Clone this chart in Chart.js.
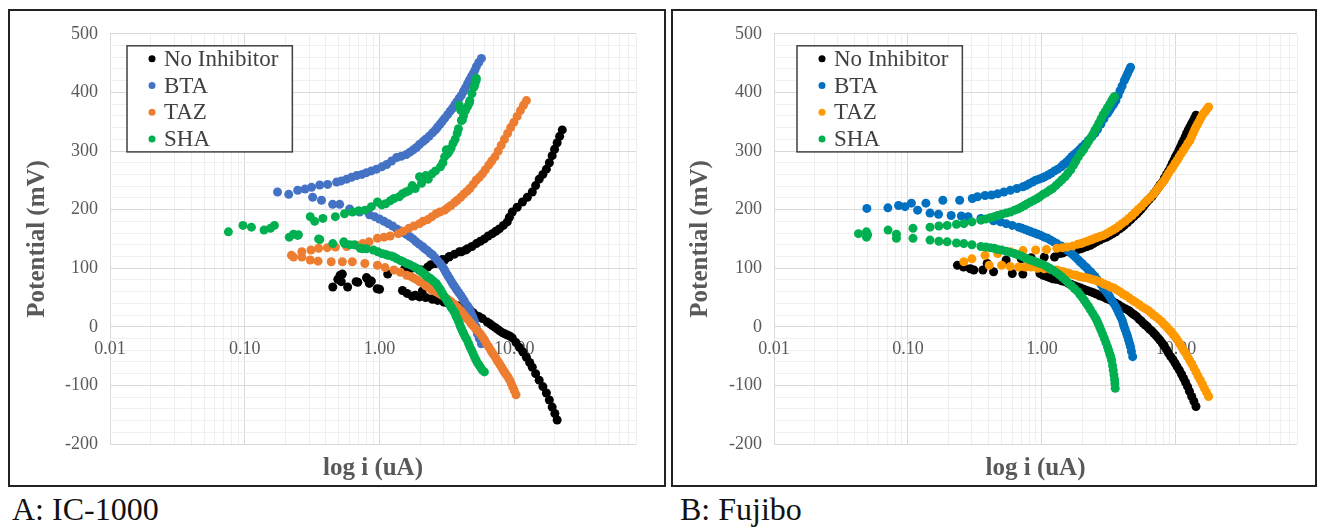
<!DOCTYPE html>
<html>
<head>
<meta charset="utf-8">
<script src="https://cdn.jsdelivr.net/npm/chart.js@4.4.0/dist/chart.umd.min.js"></script>
<style>
  body { margin: 0; background: #fff; width: 1321px; height: 527px; position: relative; overflow: hidden; }
  .panel { position: absolute; top: 9px; height: 474px; border: 2px solid #222; }
  #panelA { left: 8px; width: 654px; }
  #panelB { left: 671px; width: 642px; }
  .caption { position: absolute; top: 493px; font: 32px "Liberation Serif", "Times New Roman", serif; line-height: 32px; color: #111; }
</style>
</head>
<body>
<div class="panel" id="panelA"><canvas id="chartA" width="654" height="474"></canvas></div>
<div class="panel" id="panelB"><canvas id="chartB" width="642" height="474"></canvas></div>
<div class="caption" style="left:12px">A: IC-1000</div>
<div class="caption" style="left:680px">B: Fujibo</div>
<script>
// axis ticks
const xMajorTicks = [0.01, 0.1, 1, 10];
const xTickLabels = ['0.01', '0.10', '1.00', '10.00'];
const yMajorTicks = [-200, -100, 0, 100, 200, 300, 400, 500];
const seriesNames = ['No Inhibitor', 'BTA', 'TAZ', 'SHA'];

// A: IC-1000  -- [current (uA), potential (mV)]
const noInhibitorA = [
  [0.45,68],[0.49,81],[0.51,88],[0.52,77],[0.53,90],[0.58,68],[0.67,77],[0.69,76],[0.80,84],[0.81,82],
  [0.84,74],[0.87,78],[0.96,65],[1.0,64],[1.15,90],
  [1.48,62],[1.6,57],[1.75,52],[1.84,54],[1.98,51],[2.08,61],[2.2,50],[2.45,48],[2.47,47],[2.7,45],[3.0,42],
  [3.2,41],[3.48,39],[3.8,36],[4.1,34],[4.4,32],[4.65,30],[4.95,24],[5.23,19],[5.5,17],[5.8,14],[6.3,8],[6.6,5],
  [6.87,2],[7.2,-1],[7.5,-4],[7.8,-7],[8.15,-10],[8.5,-12],[8.9,-14],[9.3,-16],[9.66,-19],[10.3,-27],
  [10.9,-35],[11.6,-43],[12.3,-52],[13.0,-61],[13.6,-69],[14.4,-80],[15.3,-91],[16.3,-102],[17.3,-113],
  [18.2,-125],[19.1,-137],[20.0,-148],[20.8,-159],
  [1.53,98],[1.7,99],[1.98,97],[2.05,97],[2.28,102],[2.4,106],[2.6,108],[2.75,112],[2.93,115],[3.04,114],
  [3.27,119],[3.30,120],[3.6,124],[3.92,128],[4.05,128],[4.35,131],[4.49,133],[4.85,137],[5.23,142],[5.6,146],
  [6.0,150],[6.4,155],[6.87,159],[7.3,163],[7.74,167],[8.3,173],[8.87,179],[9.2,187],[9.66,196],[10.5,204],
  [11.5,213],[12.5,221],[13.6,230],[14.4,241],[15.3,252],[16.3,260],[17.3,269],[18.2,280],[19.1,292],[19.9,303],
  [20.8,314],[21.7,325],[22.7,336]
];
const btaA = [
  [0.175,230],[0.212,226],[0.247,233],[0.28,235],[0.313,238],[0.36,242],[0.412,243],[0.48,247],[0.52,249],
  [0.57,252],[0.62,255],[0.676,258],[0.74,260],[0.80,263],[0.87,266],[0.95,269],[1.04,273],[1.13,277],
  [1.23,283],[1.34,289],[1.45,291],[1.58,294],[1.68,298],[1.78,302],[1.88,306],[1.98,311],[2.1,316],[2.2,320],
  [2.33,325],[2.47,331],[2.6,336],[2.7,341],[2.82,346],[2.93,351],[3.05,356],[3.2,362],[3.34,368],[3.48,373],
  [3.62,379],[3.75,384],[3.9,390],[4.05,395],[4.2,402],[4.35,408],[4.5,415],[4.64,421],[4.8,427],[4.95,432],
  [5.1,438],[5.23,444],[5.45,451],[5.70,458],
  [0.319,221],[0.371,216],[0.449,209],[0.506,209],[0.60,201],[0.711,196],[0.843,191],[0.92,188],[1.0,184],
  [1.08,180],[1.16,176],[1.25,172],[1.34,167],[1.42,164],[1.5,161],[1.58,158],[1.67,154],[1.77,150],[1.87,145],
  [1.97,141],[2.08,137],[2.17,133],[2.27,130],[2.37,126],[2.47,123],[2.58,118],[2.7,113],[2.82,108],[2.93,103],
  [3.02,98],[3.1,93],[3.2,88],[3.30,83],[3.4,78],[3.5,73],[3.6,69],[3.72,64],[3.86,59],[4.0,54],[4.13,49],
  [4.26,44],[4.45,37],[4.55,34],[4.64,30],[4.75,25],[4.85,20],[4.95,15],[5.06,10],[5.2,0],[5.26,-6],[5.32,-12],
  [5.5,-20],[5.70,-29]
];
const tazA = [
  [0.222,122],[0.265,128],[0.31,131],[0.353,134],[0.41,135],[0.471,136],[0.57,137],[0.674,139],[0.75,142],
  [0.836,145],[0.965,151],[1.08,153],[1.20,155],[1.38,159],[1.5,163],[1.65,168],[1.8,172],[1.98,176],[2.1,180],
  [2.28,183],[2.45,188],[2.63,193],[2.8,196],[3.04,199],[3.2,203],[3.39,207],[3.6,212],[3.77,216],[4.0,221],
  [4.20,226],[4.45,231],[4.68,236],[4.95,243],[5.21,250],[5.5,255],[5.80,261],[6.1,268],[6.46,276],[6.8,283],
  [7.19,290],[7.6,300],[8.0,310],[8.45,320],[8.92,330],[9.4,340],[9.93,349],[10.5,359],[11.1,369],[11.7,378],
  [12.3,386],
  [0.23,119],[0.265,119],[0.306,114],[0.35,112],[0.438,111],[0.53,111],[0.628,111],[0.778,108],[0.965,105],
  [1.1,101],[1.28,97],[1.43,93],[1.59,88],[1.7,86],[1.8,83],[1.9,80],[1.98,77],[2.1,74],[2.2,70],[2.33,66],
  [2.45,62],[2.6,60],[2.75,57],[2.9,54],[3.04,51],[3.2,47],[3.4,43],[3.6,38],[3.77,34],[3.9,30],[4.05,26],
  [4.2,21],[4.35,17],[4.5,13],[4.7,8],[4.85,4],[5.02,0],[5.2,-4],[5.4,-8],[5.6,-12],[5.80,-17],[6.0,-22],
  [6.2,-28],[6.45,-34],[6.69,-40],[6.85,-44],[7.05,-48],[7.25,-52],[7.45,-57],[7.65,-61],[7.85,-65],[8.05,-69],
  [8.29,-74],[8.5,-78],[8.75,-82],[9.0,-86],[9.25,-91],[9.5,-97],[9.75,-103],[10.0,-109],[10.3,-116]
];
const shaA = [
  [0.0756,162],[0.097,173],[0.112,170],[0.139,165],[0.155,168],[0.166,173],[0.214,153],[0.23,158],[0.247,156],
  [0.25,157],[0.306,188],[0.33,180],[0.38,185],[0.47,188],[0.55,193],[0.63,196],[0.7,198],[0.78,199],[0.87,205],
  [0.965,213],[1.04,208],[1.11,210],[1.2,215],[1.28,219],[1.4,222],[1.48,227],[1.57,230],[1.65,232],[1.75,241],
  [1.84,236],[1.98,256],[2.05,245],[2.2,258],[2.3,252],[2.45,261],[2.6,266],[2.83,273],[2.95,280],[3.04,290],
  [3.13,302],[3.2,295],[3.3,300],[3.4,305],[3.51,313],[3.64,320],[3.77,330],[3.85,338],[3.9,378],[4.0,370],
  [4.05,352],[4.12,353],[4.2,360],[4.35,369],[4.5,376],[4.64,382],[4.68,386],[4.85,398],[5.02,409],[5.1,414],
  [5.21,420],[5.23,424],
  [0.353,150],[0.36,149],[0.45,142],[0.543,145],[0.55,142],[0.6,140],[0.65,140],[0.72,134],[0.75,133],[0.80,133],
  [0.90,131],[0.97,128],[1.04,125],[1.1,124],[1.15,122],[1.22,121],[1.28,119],[1.35,116],[1.43,113],[1.5,111],
  [1.59,108],[1.68,106],[1.78,103],[1.88,100],[1.98,97],[2.05,94],[2.13,91],[2.2,88],[2.28,85],[2.37,83],
  [2.45,80],[2.54,77],[2.63,74],[2.7,70],[2.78,66],[2.85,62],[2.93,57],[3.02,52],[3.1,48],[3.18,44],[3.27,40],
  [3.36,35],[3.45,31],[3.55,27],[3.64,23],[3.7,18],[3.78,14],[3.85,10],[3.91,6],[3.98,1],[4.05,-3],[4.12,-7],
  [4.20,-11],[4.32,-17],[4.45,-22],[4.57,-28],[4.68,-34],[4.82,-40],[4.95,-46],[5.08,-52],[5.21,-57],[5.35,-62],
  [5.5,-66],[5.65,-70],[5.80,-74],[6.0,-77]
];

// B: Fujibo  -- [current (uA), potential (mV)]
const noInhibitorB = [
  [0.234,105],[0.26,102],[0.292,99],[0.31,97],[0.362,97],[0.39,108],[0.435,94],[0.54,114],[0.60,91],[0.70,116],
  [0.72,90],[0.83,118],[1.04,119],[1.24,119],
  [0.965,91],[1.02,88],[1.08,86],[1.14,84],[1.20,82],[1.27,81],[1.35,80],[1.42,78],[1.49,77],[1.57,74],[1.66,72],
  [1.75,70],[1.85,68],[1.95,66],[2.05,64],[2.17,62],[2.30,60],[2.42,58],[2.55,56],[2.7,53],[2.86,51],[3.03,48],
  [3.2,46],[3.38,43],[3.56,40],[3.75,37],[3.95,34],[4.18,31],[4.43,28],[4.6,25],[4.75,22],[4.92,20],[5.11,17],
  [5.3,13],[5.5,10],[5.7,6],[5.91,3],[6.12,0],[6.35,-4],[6.6,-7],[6.84,-11],[7.1,-15],[7.35,-19],[7.6,-23],
  [7.90,-28],[8.2,-33],[8.5,-39],[8.8,-45],[9.14,-51],[9.5,-56],[9.85,-62],[10.2,-68],[10.6,-74],[11.0,-81],
  [11.4,-88],[11.8,-95],[12.2,-102],[12.6,-110],[13.1,-119],[13.6,-127],[14.1,-136],
  [1.35,125],[1.42,126],[1.49,128],[1.57,129],[1.66,130],[1.75,131],[1.85,132],[1.95,133],[2.05,135],[2.17,137],
  [2.30,139],[2.42,142],[2.55,145],[2.7,148],[2.86,151],[3.03,153],[3.2,156],[3.38,159],[3.56,162],[3.8,167],
  [3.95,170],[4.11,173],[4.35,178],[4.6,183],[4.85,188],[5.11,193],[5.3,197],[5.5,201],[5.7,205],[5.91,210],
  [6.12,214],[6.35,218],[6.6,222],[6.84,227],[7.1,232],[7.35,237],[7.6,242],[7.90,247],[8.2,254],[8.5,260],
  [8.8,266],[9.14,273],[9.4,279],[9.65,284],[9.9,290],[10.2,295],[10.5,301],[10.8,307],[11.1,313],[11.4,318],
  [11.7,324],[12.0,330],[12.35,336],[12.7,341],[13.05,346],[13.4,351],[13.75,356],[14.1,361]
];
const btaB = [
  [0.0493,202],[0.0708,203],[0.085,207],[0.095,205],[0.106,211],[0.136,211],[0.182,216],[0.243,216],[0.302,219],
  [0.33,222],[0.376,224],[0.42,225],[0.467,227],[0.52,230],[0.581,233],[0.65,236],[0.721,239],[0.76,241],
  [0.8,244],[0.85,247],[0.897,250],[0.95,252],[1.0,254],[1.05,256],[1.11,259],[1.17,262],[1.24,266],[1.31,269],
  [1.39,273],[1.45,277],[1.52,281],[1.59,285],[1.66,290],[1.74,294],[1.82,298],[1.9,302],[1.99,307],[2.1,312],
  [2.22,318],[2.35,324],[2.48,330],[2.6,337],[2.75,346],[2.9,355],[3.08,364],[3.2,370],[3.3,375],[3.43,380],
  [3.56,386],[3.7,395],[3.82,403],[3.96,411],[4.11,420],[4.23,426],[4.35,432],[4.47,438],[4.58,443],
  [0.118,199],[0.146,194],[0.169,192],[0.21,190],[0.25,189],[0.281,188],[0.35,185],[0.434,181],[0.49,179],
  [0.54,176],[0.6,173],[0.67,170],[0.71,168],[0.75,166],[0.79,164],[0.83,162],[0.88,160],[0.93,158],[0.98,156],
  [1.04,153],[1.1,151],[1.16,148],[1.22,145],[1.29,142],[1.39,138],[1.49,134],[1.55,131],[1.6,128],[1.66,125],
  [1.72,122],[1.78,119],[1.85,115],[1.92,111],[1.99,108],[2.07,104],[2.15,101],[2.22,97],[2.30,94],[2.39,90],
  [2.48,86],[2.57,81],[2.66,77],[2.76,72],[2.86,67],[2.97,62],[3.08,57],[3.19,52],[3.3,46],[3.43,40],[3.56,34],
  [3.65,29],[3.75,23],[3.86,17],[3.97,11],[4.04,5],[4.1,0],[4.18,-5],[4.27,-11],[4.35,-16],[4.42,-22],[4.5,-28],
  [4.58,-34],[4.65,-42],[4.75,-51]
];
const tazB = [
  [0.261,111],[0.30,116],[0.376,122],[0.467,125],[0.581,128],[0.721,130],[0.897,131],[1.08,132],[1.29,134],
  [1.42,135],[1.54,136],[1.7,138],[1.85,141],[1.95,142],[2.05,144],[2.17,146],[2.30,148],[2.42,150],[2.55,152],
  [2.7,154],[2.86,156],[3.03,159],[3.2,162],[3.38,165],[3.56,168],[3.75,172],[3.95,176],[4.18,180],[4.43,185],
  [4.7,190],[4.95,195],[5.2,200],[5.50,205],[5.8,211],[6.1,216],[6.45,221],[6.84,227],[7.15,233],[7.5,239],
  [7.85,245],[8.19,250],[8.5,256],[8.8,262],[9.15,268],[9.48,273],[9.85,279],[10.2,284],[10.55,290],[10.9,295],
  [11.35,301],[11.8,307],[12.25,313],[12.7,318],[13.05,324],[13.4,330],[13.75,336],[14.1,341],[14.5,346],
  [14.9,351],[15.3,356],[15.7,361],[16.15,365],[16.6,368],[17.05,372],[17.5,375],
  [0.404,105],[0.50,105],[0.58,103],[0.67,102],[0.75,102],[0.83,102],[0.93,100],[1.04,99],[1.16,98],[1.29,97],
  [1.37,95],[1.45,94],[1.52,92],[1.60,91],[1.7,89],[1.8,88],[1.89,86],[1.99,85],[2.1,84],[2.22,83],[2.35,81],
  [2.48,80],[2.6,78],[2.75,76],[2.9,73],[3.08,71],[3.25,68],[3.45,66],[3.62,63],[3.82,60],[4.02,56],[4.25,53],
  [4.5,49],[4.75,45],[5.0,42],[5.3,38],[5.6,34],[5.91,31],[6.2,28],[6.5,24],[6.8,20],[7.09,17],[7.45,13],
  [7.8,9],[8.15,4],[8.51,0],[8.8,-4],[9.15,-8],[9.5,-13],[9.84,-17],[10.2,-22],[10.6,-28],[11.0,-34],[11.4,-40],
  [11.8,-45],[12.2,-51],[12.65,-57],[13.1,-63],[13.6,-70],[14.1,-77],[14.6,-84],[15.2,-91],[15.75,-98],
  [16.3,-105],[16.9,-112],[17.5,-119]
];
const shaB = [
  [0.0427,159],[0.049,162],[0.071,165],[0.082,158],[0.109,168],[0.146,170],[0.17,172],[0.196,173],[0.23,175],
  [0.261,176],[0.3,179],[0.35,182],[0.38,184],[0.41,186],[0.44,188],[0.467,190],[0.5,192],[0.54,194],[0.58,196],
  [0.624,199],[0.66,201],[0.7,204],[0.74,207],[0.776,210],[0.82,213],[0.87,216],[0.92,219],[0.965,222],[1.02,226],
  [1.08,229],[1.14,233],[1.20,236],[1.27,241],[1.34,246],[1.41,251],[1.49,256],[1.56,262],[1.64,268],[1.72,276],
  [1.79,283],[1.87,290],[1.96,297],[2.05,303],[2.14,310],[2.22,316],[2.3,322],[2.39,328],[2.48,335],[2.57,341],
  [2.66,348],[2.76,355],[2.86,362],[2.97,368],[3.08,374],[3.2,380],[3.31,386],[3.4,390],[3.48,393],
  [0.049,153],[0.05,157],[0.082,151],[0.109,151],[0.146,148],[0.17,146],[0.196,145],[0.23,143],[0.261,142],
  [0.3,140],[0.35,137],[0.38,136],[0.41,135],[0.44,134],[0.467,132],[0.5,131],[0.54,129],[0.58,127],[0.624,125],
  [0.66,123],[0.7,121],[0.74,118],[0.776,116],[0.82,114],[0.87,112],[0.92,110],[0.965,108],[1.02,106],[1.08,103],
  [1.14,100],[1.20,97],[1.27,93],[1.34,89],[1.41,85],[1.49,80],[1.57,75],[1.66,70],[1.75,65],[1.85,60],[1.92,55],
  [2.0,50],[2.07,45],[2.14,40],[2.22,35],[2.3,29],[2.39,23],[2.48,17],[2.55,12],[2.62,6],[2.69,0],[2.76,-6],
  [2.84,-13],[2.92,-20],[3.0,-27],[3.08,-34],[3.14,-40],[3.2,-46],[3.26,-51],[3.31,-57],[3.36,-66],[3.4,-74],
  [3.44,-82],[3.48,-90],[3.5,-97],[3.52,-105]
];

const colorsA = ['#000000', '#4472C4', '#ED7D31', '#00B050'];
const colorsB = ['#000000', '#0070C0', '#FF9900', '#00B050'];

const X_MAX = 80;
const GRID_MAJOR = '#d9d9d9';
const GRID_MINOR = '#efefef';
const TEXT_GREY = '#595959';
const SERIF = '"Liberation Serif", "Times New Roman", serif';

// minor grid positions (1..9 per decade, 20 mV steps)
const xGrid = [];
xMajorTicks.forEach(d => {
  for (let m = 1; m <= 9; m++) {
    const v = Number((m * d).toPrecision(3));
    if (v <= X_MAX) xGrid.push(v);
  }
});
const yGrid = [];
for (let v = yMajorTicks[0]; v <= yMajorTicks[yMajorTicks.length - 1]; v += 20) yGrid.push(v);

const isMajorX = v => xMajorTicks.some(m => Math.abs(m - v) < 1e-9);
const isMajorY = v => yMajorTicks.includes(v);

// legend drawn as a framed box inside the plot, like the Excel one
const boxLegend = {
    id: 'boxLegend',
    afterDraw(chart, args, opts) {
        const { ctx, chartArea } = chart;
        const sets = chart.data.datasets;
        const rowH = 26.7;
        ctx.save();
        ctx.font = opts.fontSize + 'px ' + SERIF;
        const textW = Math.max(...sets.map(d => ctx.measureText(d.label).width));
        const x = chartArea.left + opts.dx;
        const y = chartArea.top + opts.dy;
        const w = textW + 37 + 14;
        const h = 26 + rowH * (sets.length - 1);
        ctx.fillStyle = '#fff';
        ctx.fillRect(x, y, w, h);
        ctx.strokeStyle = '#404040';
        ctx.lineWidth = 1.5;
        ctx.strokeRect(x, y, w, h);
        ctx.textBaseline = 'middle';
        sets.forEach((d, k) => {
            const cy = y + 13 + rowH * k;
            ctx.fillStyle = d.backgroundColor;
            ctx.beginPath();
            ctx.arc(x + 25, cy, 3.5, 0, Math.PI * 2);
            ctx.fill();
            ctx.fillStyle = '#404040';
            ctx.fillText(d.label, x + 37, cy + 1);
        });
        ctx.restore();
    }
};

function makePanel(canvasId, series, colors, axisWidth, padRight, legendDx) {
    const datasets = series.map((pts, k) => ({
        label: seriesNames[k],
        data: pts.map(p => ({ x: p[0], y: p[1] })),
        backgroundColor: colors[k],
        borderColor: colors[k],
        borderWidth: 0,
        pointRadius: 4.5,
        pointHoverRadius: 4.5,
        order: series.length - k,
        xAxisID: 'x',
        yAxisID: 'y'
    }));

    return new Chart(document.getElementById(canvasId), {
        type: 'scatter',
        data: { datasets: datasets },
        plugins: [boxLegend],
        options: {
            responsive: false,
            animation: false,
            layout: { padding: { top: 19, right: padRight, left: 0, bottom: 0 } },
            plugins: {
                legend: { display: false },
                tooltip: { enabled: false },
                boxLegend: { dx: legendDx, dy: 12, fontSize: 23 }
            },
            scales: {
                x: {
                    type: 'logarithmic',
                    min: xMajorTicks[0],
                    max: X_MAX,
                    position: { y: 0 },
                    afterBuildTicks: s => { s.ticks = xGrid.map(v => ({ value: v })); },
                    ticks: {
                        autoSkip: false,
                        maxRotation: 0,
                        padding: 12,
                        color: TEXT_GREY,
                        font: { family: SERIF, size: 18 },
                        callback: v => {
                            const i = xMajorTicks.findIndex(m => Math.abs(m - v) < 1e-9);
                            return i >= 0 ? xTickLabels[i] : '';
                        }
                    },
                    grid: {
                        drawTicks: false,
                        color: c => isMajorX(c.tick.value) ? GRID_MAJOR : GRID_MINOR
                    },
                    border: { display: false }
                },
                x2: {
                    type: 'linear',
                    position: 'bottom',
                    ticks: { display: false },
                    grid: { display: false, drawTicks: false },
                    border: { display: false },
                    title: {
                        display: true,
                        text: 'log i (uA)',
                        color: TEXT_GREY,
                        font: { family: SERIF, size: 25, weight: 'bold' },
                        padding: { top: 10, bottom: 1 }
                    }
                },
                y: {
                    min: yMajorTicks[0],
                    max: yMajorTicks[yMajorTicks.length - 1],
                    afterBuildTicks: s => { s.ticks = yGrid.map(v => ({ value: v })); },
                    afterFit: s => { s.width = axisWidth; },
                    ticks: {
                        autoSkip: false,
                        padding: 12,
                        color: TEXT_GREY,
                        font: { family: SERIF, size: 18 },
                        callback: v => isMajorY(v) ? String(v) : ''
                    },
                    grid: {
                        drawTicks: false,
                        color: c => isMajorY(c.tick.value) ? GRID_MAJOR : GRID_MINOR
                    },
                    border: { display: false },
                    title: {
                        display: true,
                        text: 'Potential (mV)',
                        color: TEXT_GREY,
                        font: { family: SERIF, size: 25, weight: 'bold' },
                        padding: { top: 13, bottom: 0 }
                    }
                }
            }
        }
    });
}

makePanel('chartA', [noInhibitorA, btaA, tazA, shaA], colorsA, 100, 28, 17);
makePanel('chartB', [noInhibitorB, btaB, tazB, shaB], colorsB, 101, 18, 23);
</script>
</body>
</html>
